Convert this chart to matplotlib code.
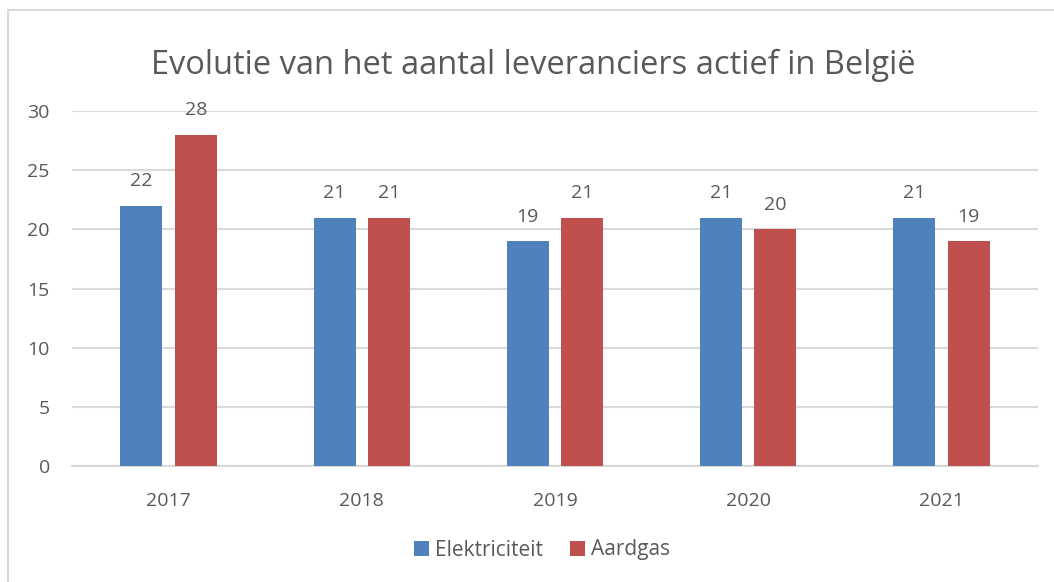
import matplotlib
matplotlib.use("Agg")
import matplotlib.pyplot as plt
from matplotlib.patches import Rectangle
import numpy as np

years = ["2017", "2018", "2019", "2020", "2021"]
elektriciteit = [22, 21, 19, 21, 21]
aardgas = [28, 21, 21, 20, 19]
series_names = ["Elektriciteit", "Aardgas"]
yticks = [0, 5, 10, 15, 20, 25, 30]
title = "Evolutie van het aantal leveranciers actief in België"

BLUE = "#4F81BD"
RED = "#C0504D"
GRID = "#D9D9D9"
TXT = "#595959"

plt.rcParams['font.family'] = ['Open Sans', 'DejaVu Sans']

W, H = 1054, 582
fig = plt.figure(figsize=(W / 100, H / 100), dpi=100)
fig.patch.set_facecolor("white")

# chart border
fig.patches.append(Rectangle((8 / W, -0.05), 1.2, (H - 10) / H + 0.05,
                             transform=fig.transFigure, fill=False,
                             edgecolor=GRID, linewidth=1.5))

left, right = 72 / W, 1038 / W
bottom, top = (H - 466) / H, (H - 111) / H
ax = fig.add_axes([left, bottom, right - left, top - bottom])

x = np.arange(len(years))
bw = 0.217
off = 0.141
b1 = ax.bar(x - off, elektriciteit, bw, color=BLUE, label=series_names[0], zorder=3)
b2 = ax.bar(x + off, aardgas, bw, color=RED, label=series_names[1], zorder=3)

for bars, vals in ((b1, elektriciteit), (b2, aardgas)):
    for r, v in zip(bars, vals):
        ax.annotate(str(v), (r.get_x() + r.get_width() / 2, v),
                    xytext=(0, 11), textcoords="offset points",
                    ha="center", va="bottom", fontsize=14, color=TXT)

ax.set_xlim(-0.5, len(years) - 0.5)
ax.set_ylim(0, 30)
ax.set_yticks(yticks)
ax.set_xticks(x)
ax.set_xticklabels(years)
ax.tick_params(axis="both", length=0, labelsize=14, labelcolor=TXT)
ax.tick_params(axis="y", pad=16)
ax.tick_params(axis="x", pad=19)
ax.yaxis.grid(True, color=GRID, linewidth=1.5, zorder=0)
ax.set_axisbelow(True)
for s in ("top", "right", "left"):
    ax.spines[s].set_visible(False)
ax.spines["bottom"].set_color(GRID)
ax.spines["bottom"].set_linewidth(1.5)

fig.text(533 / W, (H - 65) / H, title, ha="center", va="center",
         fontsize=23.5, color=TXT)

leg = fig.legend(handles=[b1, b2], labels=series_names, loc="center",
                 bbox_to_anchor=(542 / W, (H - 550) / H), ncol=2, frameon=False,
                 fontsize=15, labelcolor=TXT, handlelength=0.7, handleheight=0.7,
                 handletextpad=0.3, columnspacing=1.3)

fig.savefig("out.png", dpi=100)
